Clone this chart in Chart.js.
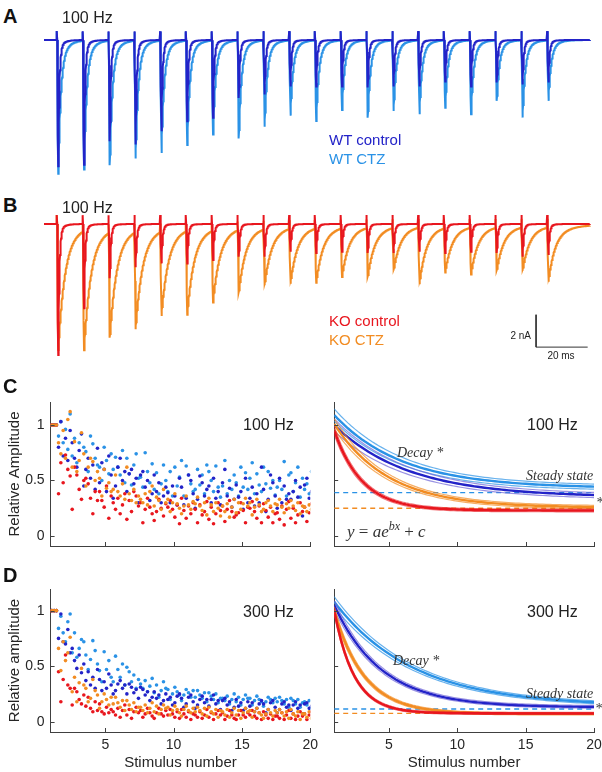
<!DOCTYPE html>
<html>
<head>
<meta charset="utf-8">
<script src="https://cdn.jsdelivr.net/npm/chart.js@4.4.1/dist/chart.umd.min.js"></script>
<style>
body { margin: 0; background: #fff; }
#fig { position: relative; width: 602px; height: 772px; overflow: hidden; font-family: 'Liberation Sans', Arial, sans-serif; color: #222; }
#fig canvas { position: absolute; }
.t { position: absolute; white-space: nowrap; transform: translateY(-50%); line-height: 1; }
.lab { font-weight: bold; font-size: 20px; color: #111; }
.hz { font-size: 16px; color: #222; }
.leg { font-size: 15px; }
.bar { font-size: 10px; color: #222; }
.it { font-family: 'Liberation Serif', 'Times New Roman', serif; font-style: italic; font-size: 14px; color: #333; }
.eq { font-family: 'Liberation Serif', 'Times New Roman', serif; font-size: 17px; color: #333; }
.eq sup { font-size: 12px; vertical-align: 7px; }
</style>
</head>
<body>
<div id="fig">
  <canvas id="trA" width="558" height="162" style="left:44px;top:24px"></canvas>
  <canvas id="trB" width="558" height="162" style="left:44px;top:208px"></canvas>
  <canvas id="scC" width="318" height="155" style="left:0;top:395px"></canvas>
  <canvas id="ftC" width="302" height="155" style="left:300px;top:395px"></canvas>
  <canvas id="scD" width="318" height="190" style="left:0;top:582px"></canvas>
  <canvas id="ftD" width="302" height="190" style="left:300px;top:582px"></canvas>

  <div class="t lab" style="left:3px;top:16px">A</div>
  <div class="t hz" style="left:62px;top:18px">100 Hz</div>
  <div class="t leg" id="legWtCon" style="left:329px;top:139px">WT control</div>
  <div class="t leg" id="legWtCtz" style="left:329px;top:158px">WT CTZ</div>

  <div class="t lab" style="left:3px;top:205px">B</div>
  <div class="t hz" style="left:62px;top:208px">100 Hz</div>
  <div class="t leg" id="legKoCon" style="left:329px;top:320px">KO control</div>
  <div class="t leg" id="legKoCtz" style="left:329px;top:339px">KO CTZ</div>
  <div class="t bar" style="right:71px;top:336px">2 nA</div>
  <div class="t bar" style="left:561px;top:356px;transform:translate(-50%,-50%)">20 ms</div>

  <div class="t lab" style="left:3px;top:386px">C</div>
  <div class="t hz" style="left:243px;top:425px">100 Hz</div>
  <div class="t hz" style="left:527px;top:425px">100 Hz</div>
  <div class="t it" style="left:397px;top:453px">Decay *</div>
  <div class="t it" style="left:526px;top:476px">Steady state</div>
  <div class="t it" style="left:596px;top:503px">*</div>
  <div class="t eq" style="left:347px;top:530px"><i>y</i> = <i>ae</i><sup><i>bx</i></sup> + <i>c</i></div>

  <div class="t lab" style="left:3px;top:575px">D</div>
  <div class="t hz" style="left:243px;top:612px">300 Hz</div>
  <div class="t hz" style="left:527px;top:612px">300 Hz</div>
  <div class="t it" style="left:393px;top:661px">Decay *</div>
  <div class="t it" style="left:526px;top:694px">Steady state</div>
  <div class="t it" style="left:595px;top:709px">*</div>
</div>
<script>
// colours for the four groups
const colWtCon = '#2323c8';
const colWtCtz = '#2a92e6';
const colKoCon = '#e8161e';
const colKoCtz = '#f28c22';
const axisColor = '#404040';
const labelColor = '#262626';

document.getElementById('legWtCon').style.color = colWtCon;
document.getElementById('legWtCtz').style.color = colWtCtz;
document.getElementById('legKoCon').style.color = colKoCon;
document.getElementById('legKoCtz').style.color = colKoCtz;

// ---- traces (A, B): peak EPSC amplitude per stimulus, nA ----
const stimIntervalMs = 10;
const wtControlPeaks = [7.79, 7.69, 6.25, 6.45, 5.63, 5.01, 4.80, 3.57, 3.36, 2.87, 2.87, 2.87, 2.93, 2.87, 2.87, 2.56, 2.87, 2.62, 2.75, 2.62];
const wtCtzPeaks     = [8.26, 7.95, 7.69, 7.27, 6.93, 6.45, 5.79, 6.04, 5.32, 4.64, 4.97, 4.29, 4.77, 4.35, 4.56, 4.15, 4.56, 3.73, 4.77, 3.73];
const koControlPeaks = [8.09, 5.20, 3.35, 2.67, 2.43, 2.43, 2.22, 2.02, 2.02, 1.71, 1.79, 1.71, 1.79, 1.79, 1.71, 1.79, 1.71, 1.79, 2.02, 1.91];
const koCtzPeaks     = [7.78, 7.36, 6.50, 5.99, 5.20, 5.17, 4.43, 3.87, 3.46, 3.41, 3.35, 3.01, 3.01, 2.64, 3.50, 2.73, 2.90, 2.64, 2.67, 3.35];
// decay kinetics: [tau fast ms, tau slow ms, slow fraction]
const wtControlKin = [0.45, 2.0, 0.06];
const wtCtzKin     = [1.0, 3.0, 0.15];
const koControlKin = [0.45, 2.0, 0.05];
const koCtzKin     = [2.6, 10, 0.1];
const artifactNa = 0.55;
const scaleBarMs = 20, scaleBarNa = 2;
const scaleBarCorner = [185.8, -7.6];

// ---- normalised amplitudes, rows = stimulus 1..20, 6 cells per group ----
const wtCtz100 = [
  [1,1,1,1,1,1],
  [1.10,0.90,1.03,0.84,0.96,0.78],[0.92,0.80,0.72,0.88,0.66,0.84],[0.83,0.70,0.64,0.76,0.58,0.90],
  [0.80,0.68,0.56,0.74,0.62,0.50],[0.71,0.62,0.55,0.77,0.48,0.60],[0.70,0.56,0.46,0.64,0.74,0.52],
  [0.65,0.53,0.44,0.75,0.58,0.48],[0.64,0.50,0.42,0.57,0.38,0.47],[0.62,0.45,0.53,0.40,0.58,0.36],
  [0.63,0.55,0.47,0.40,0.68,0.36],[0.60,0.46,0.55,0.38,0.64,0.42],[0.58,0.50,0.40,0.63,0.44,0.35],
  [0.55,0.45,0.68,0.38,0.50,0.42],[0.57,0.42,0.48,0.36,0.62,0.44],[0.56,0.46,0.40,0.52,0.66,0.38],
  [0.58,0.43,0.50,0.37,0.62,0.47],[0.50,0.42,0.67,0.36,0.55,0.44],[0.57,0.40,0.48,0.62,0.35,0.52],
  [0.56,0.42,0.47,0.38,0.58,0.50]];
const wtCon100 = [
  [1,1,1,1,1,1],
  [1.03,0.72,0.88,0.68,0.95,0.80],[0.84,0.70,0.62,0.77,0.92,0.45],[0.79,0.60,0.70,0.52,0.64,0.42],
  [0.72,0.55,0.48,0.66,0.60,0.40],[0.70,0.50,0.58,0.34,0.45,0.62],[0.60,0.47,0.52,0.30,0.40,0.56],
  [0.58,0.44,0.50,0.32,0.38,0.55],[0.55,0.40,0.48,0.30,0.36,0.44],[0.52,0.39,0.30,0.45,0.36,0.28],
  [0.50,0.38,0.44,0.28,0.34,0.55],[0.48,0.36,0.42,0.25,0.33,0.54],[0.52,0.34,0.40,0.28,0.45,0.30],
  [0.60,0.36,0.43,0.26,0.33,0.48],[0.46,0.35,0.40,0.24,0.52,0.30],[0.62,0.34,0.44,0.27,0.38,0.30],
  [0.48,0.36,0.42,0.22,0.33,0.55],[0.45,0.33,0.38,0.25,0.52,0.30],[0.50,0.35,0.44,0.18,0.33,0.40],
  [0.52,0.34,0.40,0.22,0.36,0.46]];
const koCtz100 = [
  [1,1,1,1,1,1],
  [1.12,0.84,0.74,0.95,0.70,1.05],[0.93,0.74,0.62,0.85,0.58,0.68],[0.67,0.50,0.58,0.45,0.62,0.70],
  [0.60,0.43,0.48,0.40,0.52,0.36],[0.55,0.40,0.36,0.47,0.33,0.42],[0.62,0.38,0.32,0.42,0.30,0.36],
  [0.45,0.33,0.30,0.38,0.28,0.40],[0.42,0.30,0.27,0.35,0.32,0.24],[0.38,0.29,0.25,0.33,0.22,0.30],
  [0.36,0.28,0.24,0.31,0.20,0.27],[0.35,0.27,0.23,0.30,0.19,0.29],[0.34,0.28,0.22,0.30,0.25,0.18],
  [0.33,0.27,0.22,0.29,0.17,0.26],[0.34,0.27,0.21,0.30,0.24,0.29],[0.33,0.28,0.22,0.30,0.19,0.26],
  [0.32,0.27,0.22,0.29,0.24,0.30],[0.33,0.26,0.21,0.29,0.25,0.28],[0.32,0.27,0.23,0.30,0.20,0.27],
  [0.33,0.26,0.22,0.28,0.24,0.30]];
const koCon100 = [
  [1,1,1,1,1,1],
  [0.73,0.60,0.54,0.38,0.66,0.48],[0.55,0.42,0.33,0.50,0.24,0.62],[0.47,0.34,0.20,0.40,0.32,0.52],
  [0.40,0.32,0.26,0.45,0.16,0.36],[0.38,0.30,0.24,0.34,0.20,0.28],[0.36,0.27,0.15,0.32,0.22,0.40],
  [0.34,0.26,0.20,0.30,0.12,0.24],[0.33,0.25,0.18,0.29,0.14,0.22],[0.32,0.24,0.17,0.28,0.11,0.26],
  [0.34,0.23,0.16,0.27,0.20,0.30],[0.31,0.24,0.12,0.28,0.19,0.22],[0.30,0.23,0.15,0.26,0.11,0.20],
  [0.32,0.22,0.17,0.27,0.13,0.24],[0.30,0.23,0.12,0.26,0.19,0.21],[0.31,0.22,0.16,0.27,0.12,0.25],
  [0.29,0.23,0.17,0.26,0.12,0.20],[0.31,0.21,0.15,0.27,0.10,0.24],[0.30,0.22,0.16,0.25,0.12,0.19],
  [0.29,0.23,0.17,0.26,0.13,0.21]];

const wtCtz300 = [
  [1,1,1,1,1,1],
  [0.97,0.84,0.95,0.80,0.72,0.90],[0.74,0.72,0.62,0.80,0.58,0.66],[0.73,0.64,0.52,0.60,0.47,0.56],
  [0.63,0.47,0.55,0.40,0.46,0.36],[0.59,0.47,0.40,0.52,0.33,0.36],[0.49,0.45,0.36,0.42,0.30,0.38],
  [0.39,0.34,0.30,0.37,0.27,0.32],[0.36,0.30,0.26,0.33,0.22,0.28],[0.31,0.27,0.24,0.29,0.20,0.25],
  [0.29,0.26,0.22,0.28,0.19,0.24],[0.28,0.24,0.21,0.26,0.18,0.22],[0.26,0.23,0.20,0.25,0.17,0.21],
  [0.25,0.21,0.19,0.23,0.16,0.20],[0.24,0.21,0.18,0.22,0.15,0.20],[0.23,0.20,0.18,0.21,0.15,0.19],
  [0.22,0.20,0.17,0.21,0.14,0.18],[0.22,0.19,0.16,0.20,0.13,0.18],[0.21,0.19,0.16,0.20,0.13,0.17],
  [0.22,0.18,0.15,0.19,0.12,0.17]];
const wtCon300 = [
  [1,1,1,1,1,1],
  [0.97,0.72,0.70,0.83,0.62,0.75],[0.66,0.55,0.48,0.60,0.44,0.52],[0.47,0.37,0.45,0.33,0.40,0.30],
  [0.43,0.33,0.38,0.28,0.36,0.30],[0.37,0.30,0.33,0.25,0.28,0.34],[0.31,0.26,0.29,0.21,0.25,0.34],
  [0.29,0.24,0.27,0.19,0.22,0.31],[0.27,0.21,0.24,0.16,0.19,0.25],[0.25,0.20,0.22,0.15,0.17,0.23],
  [0.24,0.18,0.21,0.13,0.16,0.22],[0.23,0.17,0.20,0.12,0.15,0.20],[0.24,0.16,0.19,0.11,0.14,0.20],
  [0.21,0.15,0.18,0.10,0.13,0.19],[0.20,0.14,0.17,0.10,0.12,0.18],[0.19,0.14,0.17,0.09,0.12,0.16],
  [0.19,0.13,0.16,0.08,0.11,0.17],[0.18,0.13,0.15,0.08,0.11,0.16],[0.18,0.12,0.15,0.07,0.10,0.15],
  [0.17,0.12,0.14,0.07,0.10,0.16]];
const koCtz300 = [
  [1,1,1,1,1,1],
  [0.76,0.66,0.46,0.72,0.55,0.62],[0.48,0.33,0.27,0.40,0.18,0.35],[0.38,0.28,0.24,0.30,0.18,0.21],
  [0.25,0.20,0.15,0.22,0.12,0.18],[0.22,0.17,0.13,0.19,0.10,0.16],[0.19,0.15,0.11,0.17,0.09,0.13],
  [0.17,0.13,0.10,0.15,0.08,0.12],[0.15,0.12,0.09,0.14,0.07,0.11],[0.14,0.11,0.08,0.13,0.06,0.10],
  [0.14,0.10,0.08,0.12,0.05,0.11],[0.13,0.10,0.07,0.12,0.05,0.09],[0.13,0.09,0.07,0.11,0.04,0.10],
  [0.12,0.09,0.06,0.11,0.04,0.08],[0.12,0.09,0.06,0.10,0.03,0.08],[0.12,0.08,0.06,0.10,0.04,0.09],
  [0.11,0.08,0.05,0.10,0.03,0.07],[0.11,0.08,0.05,0.09,0.03,0.08],[0.11,0.07,0.05,0.09,0.02,0.07],
  [0.10,0.07,0.04,0.09,0.03,0.06]];
const koCon300 = [
  [1,1,1,1,1,1],
  [0.60,0.33,0.30,0.45,0.18,0.38],[0.27,0.20,0.16,0.24,0.15,0.30],[0.22,0.12,0.09,0.18,0.10,0.14],
  [0.16,0.09,0.07,0.13,0.08,0.11],[0.15,0.09,0.06,0.12,0.04,0.10],[0.13,0.08,0.06,0.11,0.03,0.09],
  [0.12,0.08,0.05,0.10,0.04,0.07],[0.12,0.07,0.05,0.10,0.03,0.08],[0.11,0.07,0.04,0.09,0.03,0.06],
  [0.11,0.07,0.04,0.09,0.02,0.07],[0.11,0.06,0.04,0.09,0.03,0.06],[0.10,0.06,0.04,0.08,0.02,0.07],
  [0.10,0.06,0.03,0.08,0.02,0.05],[0.10,0.06,0.04,0.08,0.02,0.06],[0.10,0.05,0.03,0.08,0.02,0.06],
  [0.09,0.06,0.03,0.07,0.02,0.05],[0.10,0.05,0.03,0.08,0.02,0.06],[0.09,0.05,0.03,0.07,0.02,0.05],
  [0.09,0.05,0.03,0.07,0.02,0.06]];

// ---- exponential fits y = a*exp(b*x) + c : [lower, mean, upper] of [a, b, c] ----
const fitWtCtz100 = [[0.766,-0.2,0.408],[0.806,-0.2,0.43],[0.846,-0.2,0.452]];
const fitWtCon100 = [[0.742,-0.185,0.328],[0.782,-0.185,0.35],[0.822,-0.185,0.372]];
const fitKoCtz100 = [[0.932,-0.253,0.24],[0.972,-0.253,0.255],[1.012,-0.253,0.27]];
const fitKoCon100 = [[1.135,-0.49,0.218],[1.175,-0.49,0.23],[1.215,-0.49,0.242]];
const fitWtCtz300 = [[1.078,-0.173,0.128],[1.118,-0.173,0.14],[1.158,-0.173,0.152]];
const fitWtCon300 = [[1.188,-0.289,0.118],[1.228,-0.289,0.13],[1.268,-0.289,0.142]];
const fitKoCtz300 = [[1.427,-0.456,0.06],[1.467,-0.456,0.07],[1.507,-0.456,0.08]];
const fitKoCon300 = [[1.795,-0.685,0.066],[1.835,-0.685,0.075],[1.875,-0.685,0.084]];
// steady state levels (dashed): [WT, KO]
const steady100 = [0.39, 0.25];
const steady300 = [0.114, 0.075];

const stimTicks = [5, 10, 15, 20];
const ampTicks = [0, 0.5, 1];
const yRange100 = [-0.09, 1.207];
const yRange300 = [-0.093, 1.195];
const jitter = [-0.42, -0.25, -0.08, 0.09, 0.26, 0.43];

const pxPerMs = 2.58, pxPerNa = 16.2, baselineOffsetPx = 16;

// build a current trace from per-stimulus peaks
function buildTrace(peaks, kin) {
  const [tauFast, tauSlow, slowPart] = kin;
  const pts = [];
  for (let k = -50; k <= 2067; k++) {
    let v = 0;
    peaks.forEach((amp, i) => {
      const dk = k - i * stimIntervalMs * 10;
      if (dk < 0) return;
      if (dk === 1) v += artifactNa;
      else if (dk >= 2 && dk <= 6) v -= amp * (dk - 2) / 4;
      else if (dk > 6) {
        const d = (dk - 6) / 10;
        v -= amp * ((1 - slowPart) * Math.exp(-d / tauFast) + slowPart * Math.exp(-d / tauSlow));
      }
    });
    pts.push({ x: k / 10, y: v });
  }
  return pts;
}

function traceSet(data, color) {
  return { data, showLine: true, pointRadius: 0, borderColor: color, borderWidth: 2, tension: 0 };
}

function traceChart(id, bottomToTop) {
  const cv = document.getElementById(id);
  const xMin = -(56.7 - 44) / pxPerMs;
  const yMax = baselineOffsetPx / pxPerNa;
  new Chart(cv, {
    type: 'scatter',
    data: { datasets: bottomToTop.slice().reverse() },
    options: {
      responsive: false, animation: false,
      layout: { padding: 0 },
      plugins: { legend: { display: false }, tooltip: { enabled: false } },
      scales: {
        x: { type: 'linear', display: false, min: xMin, max: xMin + cv.width / pxPerMs },
        y: { type: 'linear', display: false, max: yMax, min: yMax - cv.height / pxPerNa }
      }
    }
  });
}

traceChart('trA', [
  traceSet(buildTrace(wtCtzPeaks, wtCtzKin), colWtCtz),
  traceSet(buildTrace(wtControlPeaks, wtControlKin), colWtCon)
]);
const [sbX, sbY] = scaleBarCorner;
traceChart('trB', [
  traceSet(buildTrace(koCtzPeaks, koCtzKin), colKoCtz),
  traceSet(buildTrace(koControlPeaks, koControlKin), colKoCon),
  { data: [{ x: sbX, y: sbY + scaleBarNa }, { x: sbX, y: sbY }, { x: sbX + scaleBarMs, y: sbY }],
    showLine: true, pointRadius: 0, borderColor: '#333', borderWidth: 1 }
]);

// inward tick marks, MATLAB style
const innerTicks = {
  id: 'innerTicks',
  afterDraw(chart) {
    const { ctx, chartArea: a, scales: { x, y } } = chart;
    ctx.save();
    ctx.strokeStyle = axisColor;
    ctx.lineWidth = 1;
    ctx.beginPath();
    x.ticks.forEach(t => {
      const px = Math.round(x.getPixelForValue(t.value)) + 0.5;
      ctx.moveTo(px, a.bottom); ctx.lineTo(px, a.bottom - 4);
    });
    y.ticks.forEach(t => {
      const py = Math.round(y.getPixelForValue(t.value)) + 0.5;
      ctx.moveTo(a.left, py); ctx.lineTo(a.left + 4, py);
    });
    ctx.stroke();
    ctx.restore();
  }
};

function scatterSet(rows, g, color) {
  const data = [];
  rows.forEach((row, s) => {
    row.forEach((v, k) => {
      data.push({ x: s + 1 + jitter[(k + 5 * s + 2 * g) % jitter.length], y: v });
    });
  });
  return { data, pointRadius: 1.8, pointBorderWidth: 0, pointBackgroundColor: color, showLine: false };
}

function fitSets(triples, color, edge) {
  return triples.map(([a, b, c], i) => {
    const data = [];
    for (let x = 1; x <= 20.001; x += 0.25) data.push({ x, y: a * Math.exp(b * x) + c });
    return { data, showLine: true, pointRadius: 0, borderColor: i === 1 ? color : edge,
             borderWidth: i === 1 ? 2.4 : 1.2, tension: 0 };
  });
}

function dashSet(v, color) {
  return { data: [{ x: 1, y: v }, { x: 20, y: v }], showLine: true, pointRadius: 0,
           borderColor: color, borderWidth: 1.3, borderDash: [5, 4] };
}

const tickFont = { size: 14, family: "'Liberation Sans', Arial" };
const titleFont = { size: 15, family: "'Liberation Sans', Arial" };

function panelChart(id, bottomToTop, cfg) {
  new Chart(document.getElementById(id), {
    type: 'scatter',
    data: { datasets: bottomToTop.slice().reverse() },
    options: {
      responsive: false, animation: false,
      layout: { padding: { top: 7, right: cfg.padRight, left: 0, bottom: 0 } },
      plugins: { legend: { display: false }, tooltip: { enabled: false } },
      scales: {
        x: {
          type: 'linear', min: 1, max: 20,
          afterBuildTicks: s => { s.ticks = stimTicks.map(v => ({ value: v })); },
          afterFit: s => { s.height = cfg.xHeight; s.paddingLeft = 0; s.paddingRight = 0; },
          grid: { display: false, drawTicks: false },
          border: { color: axisColor, width: 1 },
          ticks: { display: cfg.xLabels, padding: 5, color: labelColor, font: tickFont, callback: v => String(v) },
          title: { display: cfg.xLabels, text: 'Stimulus number', color: labelColor,
                   font: titleFont, padding: { top: 0, bottom: 0 } }
        },
        y: {
          type: 'linear', min: cfg.yRange[0], max: cfg.yRange[1],
          afterBuildTicks: s => { s.ticks = ampTicks.map(v => ({ value: v })); },
          afterFit: s => { s.width = cfg.yWidth; s.paddingTop = 0; s.paddingBottom = 0; },
          grid: { display: false, drawTicks: false },
          border: { color: axisColor, width: 1 },
          ticks: { display: !!cfg.yTitle, padding: 6, color: labelColor, font: tickFont, callback: v => String(v) },
          title: { display: !!cfg.yTitle, text: cfg.yTitle || '', color: labelColor,
                   font: titleFont, padding: { top: 6, bottom: 0 } }
        }
      }
    },
    plugins: [innerTicks]
  });
}

panelChart('scC', [
  scatterSet(wtCtz100, 0, colWtCtz), scatterSet(wtCon100, 1, colWtCon),
  scatterSet(koCon100, 2, colKoCon), scatterSet(koCtz100, 3, colKoCtz)
], { padRight: 7.7, xHeight: 4, yWidth: 50.6, yRange: yRange100, xLabels: false, yTitle: 'Relative Amplitude' });

panelChart('scD', [
  scatterSet(wtCtz300, 0, colWtCtz), scatterSet(wtCon300, 1, colWtCon),
  scatterSet(koCon300, 2, colKoCon), scatterSet(koCtz300, 3, colKoCtz)
], { padRight: 7.7, xHeight: 40, yWidth: 50.6, yRange: yRange300, xLabels: true, yTitle: 'Relative amplitude' });

panelChart('ftC', [
  dashSet(steady100[0], colWtCtz), dashSet(steady100[1], colKoCtz),
  ...fitSets(fitWtCtz100, colWtCtz, 'rgba(42,146,230,0.7)'),
  ...fitSets(fitWtCon100, colWtCon, 'rgba(110,100,215,0.7)'),
  ...fitSets(fitKoCtz100, colKoCtz, 'rgba(242,140,34,0.7)'),
  ...fitSets(fitKoCon100, colKoCon, 'rgba(232,22,30,0.6)')
], { padRight: 8, xHeight: 4, yWidth: 34.2, yRange: yRange100, xLabels: false });

panelChart('ftD', [
  dashSet(steady300[0], colWtCtz), dashSet(steady300[1], colKoCtz),
  ...fitSets(fitWtCtz300, colWtCtz, 'rgba(42,146,230,0.7)'),
  ...fitSets(fitWtCon300, colWtCon, 'rgba(110,100,215,0.7)'),
  ...fitSets(fitKoCtz300, colKoCtz, 'rgba(242,140,34,0.7)'),
  ...fitSets(fitKoCon300, colKoCon, 'rgba(232,22,30,0.6)')
], { padRight: 8, xHeight: 40, yWidth: 34.2, yRange: yRange300, xLabels: true });
</script>
</body>
</html>
